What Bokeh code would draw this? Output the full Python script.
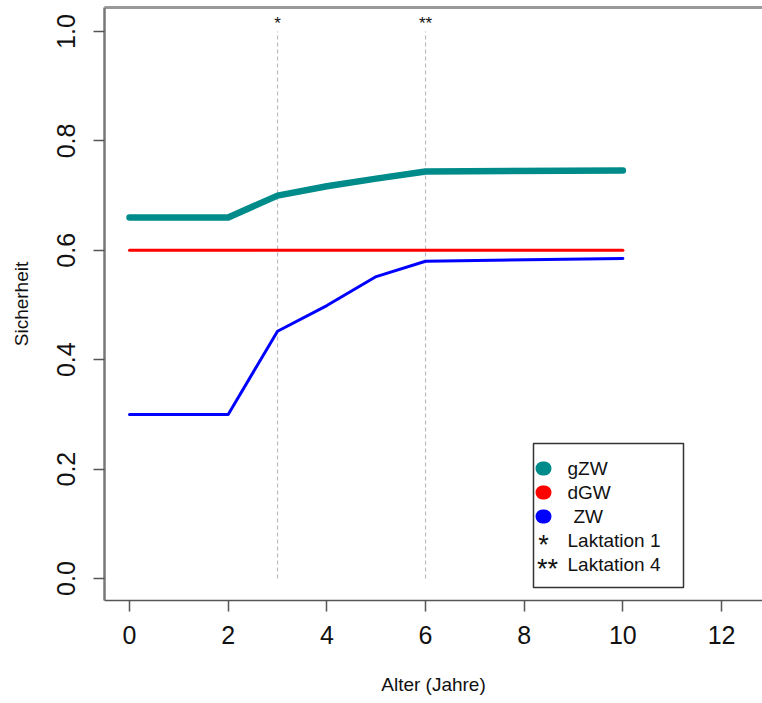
from bokeh.plotting import figure
from bokeh.models import Range1d, FixedTicker, LinearAxis, BoxAnnotation, Label, ColumnDataSource
from bokeh.core.properties import value
from bokeh.embed import file_html
from bokeh.resources import INLINE

# ---- data ----
alter = [0, 2, 3, 4, 5, 6, 10]
gzw = [0.66, 0.66, 0.700, 0.717, 0.731, 0.744, 0.746]
zw = [0.30, 0.30, 0.452, 0.499, 0.552, 0.580, 0.585]
dgw_alter = [0, 10]
dgw = [0.60, 0.60]
laktation_alter = [3, 6]
laktation_marks = ["*", "**"]
x_ticks = [0, 2, 4, 6, 8, 10, 12]
y_ticks = [0.0, 0.2, 0.4, 0.6, 0.8, 1.0]
y_tick_labels = ["0.0", "0.2", "0.4", "0.6", "0.8", "1.0"]
series_labels = ["gZW", "dGW", " ZW"]
series_colors = ["#008B8B", "#FF0000", "#0000FF"]
laktation_labels = ["Laktation 1", "Laktation 4"]

FONT = "Liberation Sans"

p = figure(width=762, height=703,
           x_range=Range1d(-0.507, 12.83), y_range=Range1d(-0.0402, 1.0439),
           output_backend="svg", toolbar_location=None,
           min_border_left=104, min_border_right=0, min_border_top=7, min_border_bottom=103,
           outline_line_color=None, background_fill_color="white", border_fill_color="white")
p.grid.visible = False

def style_axis(ax):
    ax.minor_tick_in = 0
    ax.minor_tick_out = 0
    ax.major_tick_in = 0
    ax.major_tick_out = 11
    ax.axis_line_color = "#555555"
    ax.axis_line_width = 1.5
    ax.major_tick_line_color = "#555555"
    ax.major_tick_line_width = 1.5
    ax.major_label_text_font = FONT
    ax.major_label_text_font_size = "25px"
    ax.major_label_text_color = "#111111"
    ax.axis_label_text_font = FONT
    ax.axis_label_text_font_size = "19px"
    ax.axis_label_text_font_style = "normal"
    ax.axis_label_text_color = "#111111"

xa = p.xaxis[0]
style_axis(xa)
xa.ticker = FixedTicker(ticks=x_ticks)
xa.major_label_standoff = 14
xa.axis_label = "Alter (Jahre)"
xa.axis_label_standoff = 27

ya = p.yaxis[0]
style_axis(ya)
ya.ticker = FixedTicker(ticks=y_ticks)
ya.major_label_overrides = {t: l for t, l in zip(y_ticks, y_tick_labels)}
ya.major_label_orientation = "vertical"
ya.major_label_standoff = 18
ya.axis_label = "Sicherheit"
ya.axis_label_standoff = 23
ya.axis_line_color = "#777777"
ya.axis_line_width = 2.5

top = LinearAxis(ticker=FixedTicker(ticks=[]), axis_line_color="#999999", axis_line_width=3,
                 major_tick_out=0, major_tick_in=0, minor_tick_out=0, minor_tick_in=0,
                 major_label_text_font_size="0px", major_label_standoff=0)
p.add_layout(top, "above")

# vertical dashed lines at lactations
p.segment(x0=laktation_alter, y0=[0] * len(laktation_alter), x1=laktation_alter, y1=[1] * len(laktation_alter),
          line_color="#BBBBBB", line_dash="4 3", line_width=1.2)

src = ColumnDataSource(dict(x=laktation_alter, y=[1.019] * len(laktation_alter), t=laktation_marks))
p.text(x="x", y="y", text="t", source=src, text_font=value(FONT), text_font_size="17px",
       text_align="center", text_baseline="middle", y_offset=2, text_color="#111111")

p.line(alter, gzw, line_color=series_colors[0], line_width=6.5, line_cap="round", line_join="round")
p.line(dgw_alter, dgw, line_color=series_colors[1], line_width=3, line_cap="round")
p.line(alter, zw, line_color=series_colors[2], line_width=3, line_cap="round", line_join="round")

# ---- legend (screen units relative to the plot frame) ----
p.add_layout(BoxAnnotation(left=429, right=579, bottom=13, top=157,
                           left_units="screen", right_units="screen", top_units="screen", bottom_units="screen",
                           fill_color="white", fill_alpha=1.0, line_color="#333333", line_width=1.5, line_alpha=1.0))
row_y = [132, 108, 84, 60, 36]
sym_x = 439
text_x = 463
for i, (lab, col) in enumerate(zip(series_labels, series_colors)):
    r = 8
    lead = 6 * (len(lab) - len(lab.lstrip()))
    p.add_layout(BoxAnnotation(left=sym_x - r, right=sym_x + r, bottom=row_y[i] - r + 1, top=row_y[i] + r - 1,
                               left_units="screen", right_units="screen", top_units="screen", bottom_units="screen",
                               fill_color=col, fill_alpha=1.0, line_color=None, border_radius=r))
    p.add_layout(Label(x=text_x + lead, y=row_y[i], x_units="screen", y_units="screen", text=lab,
                       text_font=FONT, text_font_size="19px", text_baseline="middle", text_color="#111111"))
for j, (lab, mark) in enumerate(zip(laktation_labels, laktation_marks)):
    i = 3 + j
    p.add_layout(Label(x=sym_x + 4 * j, y=row_y[i] - 4, x_units="screen", y_units="screen", text=mark,
                       text_font=FONT, text_font_size="27px", text_align="center", text_baseline="middle",
                       text_color="#111111"))
    p.add_layout(Label(x=text_x, y=row_y[i], x_units="screen", y_units="screen", text=lab,
                       text_font=FONT, text_font_size="19px", text_baseline="middle", text_color="#111111"))

open("out.html", "w").write(file_html(p, INLINE))
